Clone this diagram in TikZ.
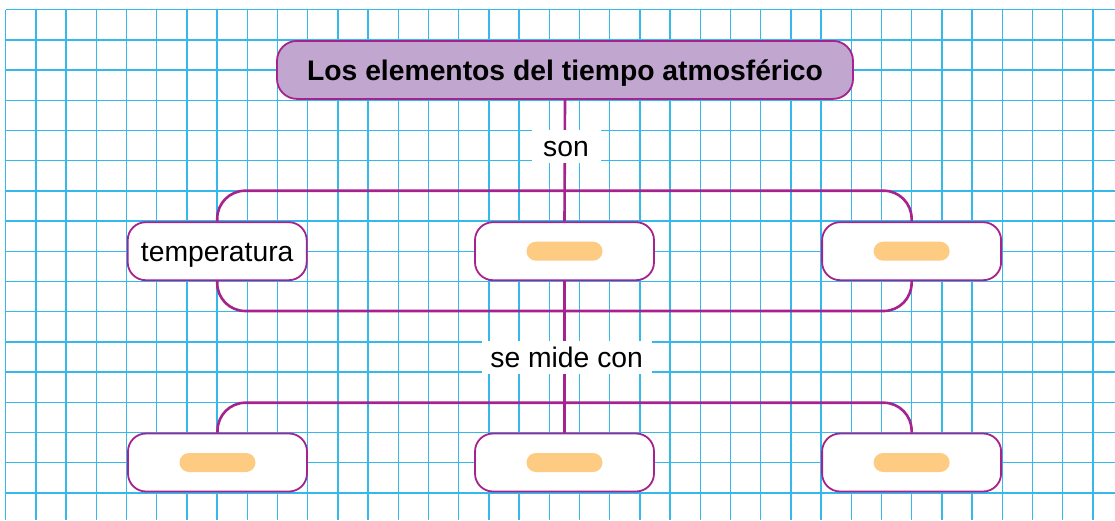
\documentclass[tikz,border=0pt]{standalone}
\usepackage{fontspec}
\setmainfont{Liberation Sans}
\definecolor{gridc}{HTML}{35B8EA}
\definecolor{mag}{HTML}{A6228F}
\definecolor{titlefill}{HTML}{C1A7CF}
\definecolor{pillc}{HTML}{FDCB82}
\pgfdeclarelayer{bg}
\pgfsetlayers{bg,main}
\tikzset{
  gridline/.style={draw=gridc, line width=1.3pt},
  conn/.style={draw=mag, line width=2.6pt},
  titlebox/.style={draw=mag, line width=1.8pt, fill=titlefill, rounded corners=20pt,
    minimum width=576pt, minimum height=58pt, inner sep=0pt, text height=20.3pt, text depth=0pt,
    font=\fontsize{28.3pt}{34pt}\selectfont\bfseries},
  conceptbox/.style={draw=mag, line width=1.8pt, fill=white, rounded corners=18pt,
    minimum width=179pt, minimum height=58pt, inner sep=0pt, text height=20.3pt, text depth=0pt,
    font=\fontsize{28.3pt}{34pt}\selectfont},
  pill/.style={fill=pillc, rounded corners=9.5pt, minimum width=76pt, minimum height=19pt, inner sep=0pt},
  linklabel/.style={fill=white, minimum height=33pt, inner sep=0pt, text height=20.3pt, text depth=0pt,
    font=\fontsize{28.3pt}{34pt}\selectfont}
}
\begin{document}
\begin{tikzpicture}[x=1pt,y=-1pt]
\useasboundingbox (0,0) rectangle (1115,520);
\begin{pgfonlayer}{bg}
\fill[white] (0,0) rectangle (1115,520);
\foreach \i in {0,...,36} \draw[gridline] ({5.7+30.2*\i},9.7) -- ({5.7+30.2*\i},520);
\foreach \j in {0,...,16} \draw[gridline] (5.7,{9.7+30.2*\j}) -- (1115,{9.7+30.2*\j});
\end{pgfonlayer}

\node[titlebox] (t) at (565,69.9) {Los elementos del tiempo atmosférico};

\node[conceptbox] (a1) at (217.2,251.2) {temperatura};
\node[conceptbox] (a2) at (564.5,251.2) {};
\node[conceptbox] (a3) at (911.6,251.2) {};
\node[conceptbox] (b1) at (217.5,462.5) {};
\node[conceptbox] (b2) at (564.5,462.5) {};
\node[conceptbox] (b3) at (911.6,462.5) {};

\node[pill] (p2) at (a2.center) {};
\node[pill] (p3) at (a3.center) {};
\node[pill] (q1) at (b1.center) {};
\node[pill] (q2) at (b2.center) {};
\node[pill] (q3) at (b3.center) {};

\coordinate (u) at (564.5,190.7);
\coordinate (l) at (564.5,311);
\coordinate (m) at (564.5,402.7);

\begin{pgfonlayer}{bg}
\draw[conn] (t.south) -- (a2.north);
\draw[conn] (a2.south) -- (b2.north);
\draw[conn, rounded corners=28pt] (a1.north) |- (u) -| (a3.north);
\draw[conn, rounded corners=28pt] (a1.south) |- (l) -| (a3.south);
\draw[conn, rounded corners=28pt] (b1.north) |- (m) -| (b3.north);
\end{pgfonlayer}

\node[linklabel, minimum width=69pt] (son) at (566,146.2) {son};
\node[linklabel, minimum width=170pt] (smc) at (566.7,357.5) {se mide con};
\end{tikzpicture}
\end{document}
